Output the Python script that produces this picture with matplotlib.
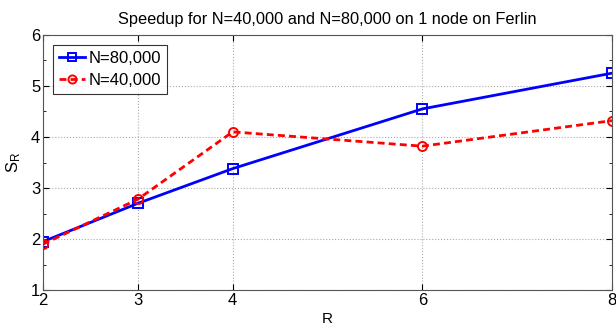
import numpy as np
import matplotlib.pyplot as plt
from matplotlib.ticker import MultipleLocator

plt.rcParams['font.family'] = ['Liberation Sans', 'DejaVu Sans']

# data
R = [2, 3, 4, 6, 8]
speedup_80k = [1.95, 2.70, 3.38, 4.55, 5.25]
speedup_40k = [1.90, 2.78, 4.10, 3.82, 4.32]
xticks = [2, 3, 4, 6, 8]
yticks = [1, 2, 3, 4, 5, 6]

fig = plt.figure(figsize=(6.16, 3.26), dpi=100)
ax = fig.add_axes([0.0698, 0.110, 0.9237, 0.783])

ax.plot(R, speedup_80k, color='#0000ff', lw=2.0, marker='s', ms=6.5,
        mfc='none', mec='#0000ff', mew=1.4, label='N=80,000')
ax.plot(R, speedup_40k, color='#ff0000', lw=2.0, ls='--', dashes=(2.5, 1.5),
        marker='o', ms=6.5, mfc='none', mec='#ff0000', mew=1.4, label='N=40,000')

ax.set_xlim(2, 8)
ax.set_ylim(1, 6)
ax.set_xticks(xticks)
ax.set_yticks(yticks)
ax.yaxis.set_minor_locator(MultipleLocator(0.5))
ax.tick_params(which='both', direction='in', top=True, right=True, labelsize=12, pad=2)
ax.tick_params(which='major', length=4)
ax.tick_params(which='minor', length=2.5)
ax.grid(True, which='major', ls=':', color='#aaaaaa', lw=0.8)
for s in ax.spines.values():
    s.set_color('#555555')

ax.set_title('Speedup for N=40,000 and N=80,000 on 1 node on Ferlin', fontsize=11.8, pad=8)
ax.set_xlabel('R', fontsize=11, labelpad=3)
ax.set_ylabel('$\\mathregular{S_R}$', fontsize=12, labelpad=6)

leg = ax.legend(loc='upper left', fontsize=12, frameon=True, fancybox=False,
                borderpad=0.35, labelspacing=0.45, handlelength=1.6, handletextpad=0.2,
                borderaxespad=0.6, markerscale=0.9)
leg.get_frame().set_edgecolor('black')
leg.get_frame().set_linewidth(0.8)

fig.savefig('out.png', dpi=100)
